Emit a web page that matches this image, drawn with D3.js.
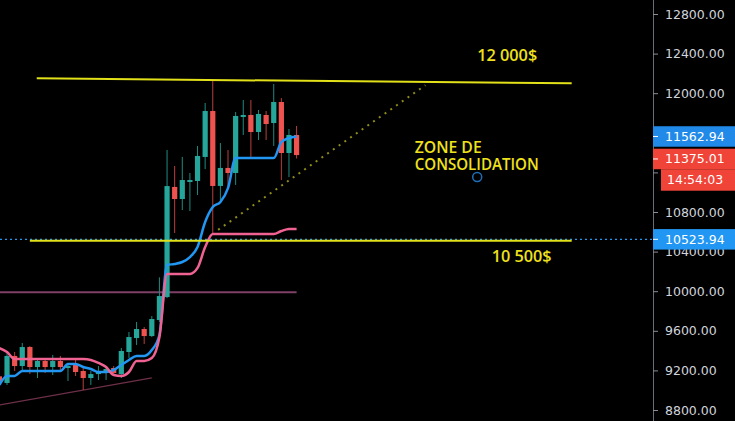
<!DOCTYPE html>
<meta charset="utf-8">
<style>
body { margin: 0; background: #000; }
svg { display: block; }
.axis text { font: 12.5px "DejaVu Sans"; fill: #d1d4dc; }
.axis line { stroke: #8a8d96; }
.note { font-family: "Open Sans"; font-weight: 600; font-size: 17px; fill: #efe21c; }
</style>
<body>
<script src="https://cdn.jsdelivr.net/npm/d3@7/dist/d3.min.js"></script>
<script>

var width = 735, height = 421, axisX = 653;

// candles (index = bar number)
var opens  = [9140, 9073, 9346, 9244, 9436, 9234, 9295, 9234, 9295, 9224, 9265, 9194, 9123, 9163, 9184, 9224, 9163, 9386, 9527, 9618,
              9547, 9709, 9941, 11053, 10931, 11103, 11113, 11356, 11820, 11063, 11245, 11194, 11760, 11780, 11608, 11780, 11699, 11911, 11396, 11578];
var highs  = [9180, 9386, 9386, 9477, 9446, 9325, 9325, 9356, 9346, 9275, 9305, 9224, 9194, 9244, 9234, 9244, 9426, 9588, 9689, 9638,
              9749, 10140, 11426, 11265, 11356, 11194, 11467, 11901, 12143, 11497, 11426, 11810, 11931, 11931, 11830, 11820, 12093, 11951, 11638, 11669];
var lows   = [9050, 9053, 9194, 9184, 9164, 9123, 9174, 9153, 9184, 9093, 9143, 9002, 9053, 9103, 9103, 9143, 9123, 9325, 9457, 9467,
              9537, 9689, 9930, 10588, 10820, 10810, 10972, 11234, 10568, 10921, 11042, 11073, 11578, 11356, 11527, 11527, 11467, 11123, 11153, 11340];
var closes = [9085, 9346, 9244, 9436, 9234, 9295, 9234, 9295, 9234, 9244, 9184, 9123, 9163, 9184, 9214, 9174, 9396, 9537, 9618, 9547,
              9719, 9951, 11062, 10931, 11123, 11123, 11366, 11820, 11063, 11245, 11194, 11770, 11780, 11608, 11790, 11689, 11911, 11396, 11578, 11375.01];

// indicator lines
var blueLine = [9053, 9144, 9144, 9194, 9194, 9194, 9194, 9194, 9194, 9265, 9265, 9234, 9214, 9184, 9184, 9204, 9255, 9305, 9346, 9346,
                9406, 9558, 10265, 10275, 10295, 10345, 10447, 10699, 10850, 10901, 11042, 11345, 11345, 11345, 11345, 11345, 11345, 11507, 11547, 11562.94];
var pinkLine = [9426, 9386, 9315, 9315, 9315, 9315, 9315, 9315, 9315, 9315, 9315, 9315, 9305, 9275, 9234, 9153, 9144, 9184, 9295, 9295,
                9325, 9537, 10174, 10174, 10174, 10174, 10235, 10447, 10578, 10578, 10578, 10578, 10578, 10578, 10578, 10578, 10578, 10608, 10629, 10629];

var yTicks = [8800, 9200, 9600, 10000, 10400, 10800, 11200, 11600, 12000, 12400, 12800];
var labelValues = [11562.94, 11375.01, 10523.94];
var labelColors = ["#2189e8", "#f04438", "#2196f3"];
var timerText = "14:54:03";

// drawings: [bar, price] pairs
var resistance = [[4.9, 12150], [75.1, 12100]];
var support = [[4, 10510], [75.1, 10510]];
var dottedTrend = [[28.7, 10620], [55.9, 12080]];
var mauveLevel = [[0, 9990], [39, 9990]];
var lowTrend = [[0, 8850], [20, 9125]];
var circlePoint = [62.7, 11154];
var notes = [
  {text: "12 000$", at: [62.7, 12325], len: 60},
  {text: "10 500$", at: [64.6, 10300], len: 60},
  {text: "ZONE DE", at: [54.5, 11396], len: 67},
  {text: "CONSOLIDATION", at: [54.5, 11224], len: 124}
];

var x = d3.scaleLinear().domain([0, 39]).range([-0.6, 296.6]);
var y = d3.scaleLinear().domain([8800, 12800]).range([410, 14]);

var svg = d3.select("body").append("svg")
    .attr("width", width)
    .attr("height", height)
    .style("background", "#000");

// last price dotted line
svg.append("line")
  .attr("x1", 0).attr("x2", axisX)
  .attr("y1", y(labelValues[2])).attr("y2", y(labelValues[2]))
  .attr("stroke", "#2196f3")
  .attr("stroke-width", 1.3)
  .attr("stroke-dasharray", "2,3");

var seg = d3.line()
  .x(function(d) { return x(d[0]); })
  .y(function(d) { return y(d[1]); });

svg.append("path").attr("d", seg(mauveLevel))
  .attr("stroke", "#7e4066").attr("stroke-width", 2).attr("fill", "none");
svg.append("path").attr("d", seg(lowTrend))
  .attr("stroke", "#6e3049").attr("stroke-width", 1.2).attr("fill", "none");

// candles
var bars = d3.range(opens.length);
var up = function(i) { return closes[i] >= opens[i]; };

svg.selectAll(".wick")
  .data(bars)
  .enter().append("line")
    .attr("x1", function(i) { return x(i); })
    .attr("x2", function(i) { return x(i); })
    .attr("y1", function(i) { return y(highs[i]); })
    .attr("y2", function(i) { return y(lows[i]); })
    .attr("stroke", function(i) { return up(i) ? "#1f8a80" : "#b8413c"; })
    .attr("stroke-width", 1);

svg.selectAll(".body")
  .data(bars)
  .enter().append("rect")
    .attr("x", function(i) { return x(i) - 2.6; })
    .attr("width", 5.2)
    .attr("y", function(i) { return y(Math.max(opens[i], closes[i])); })
    .attr("height", function(i) { return Math.max(1.5, Math.abs(y(opens[i]) - y(closes[i]))); })
    .attr("fill", function(i) { return up(i) ? "#26a69a" : "#ef5350"; });

var ind = d3.line()
  .x(function(d, i) { return x(i); })
  .y(function(d) { return y(d); })
  .curve(d3.curveMonotoneX);

svg.append("path").attr("d", ind(blueLine))
  .attr("stroke", "#2196f3").attr("stroke-width", 2.5).attr("fill", "none");
svg.append("path").attr("d", ind(pinkLine))
  .attr("stroke", "#f06292").attr("stroke-width", 2.5).attr("fill", "none");

// yellow levels and dotted trend
svg.append("path").attr("d", seg(resistance))
  .attr("stroke", "#e2e019").attr("stroke-width", 2).attr("fill", "none");
svg.append("path").attr("d", seg(support))
  .attr("stroke", "#e2e019").attr("stroke-width", 2).attr("fill", "none");
svg.append("path").attr("d", seg(dottedTrend))
  .attr("stroke", "#8f8c17").attr("stroke-width", 2)
  .attr("stroke-dasharray", "2,5").attr("fill", "none");

svg.append("circle")
  .attr("cx", x(circlePoint[0])).attr("cy", y(circlePoint[1]))
  .attr("r", 4.5)
  .attr("fill", "none").attr("stroke", "#1f6fb8").attr("stroke-width", 1.5);

svg.selectAll(".note")
  .data(notes)
  .enter().append("text")
    .attr("class", "note")
    .attr("x", function(d) { return x(d.at[0]); })
    .attr("y", function(d) { return y(d.at[1]); })
    .attr("textLength", function(d) { return d.len; })
    .attr("lengthAdjust", "spacingAndGlyphs")
    .text(function(d) { return d.text; });

// price axis
svg.append("line")
  .attr("x1", axisX + 0.5).attr("x2", axisX + 0.5)
  .attr("y1", 0).attr("y2", height)
  .attr("stroke", "#6a6d78");

// tick texts fully hidden behind the price labels are left out
var hidden = [11200, 11600];
var axis = svg.append("g")
  .attr("class", "axis")
  .attr("transform", "translate(" + axisX + ",0)")
  .call(d3.axisRight(y).tickValues(yTicks)
    .tickFormat(function(d) { return hidden.indexOf(d) >= 0 ? "" : d3.format(".2f")(d); })
    .tickSize(5).tickPadding(7).tickSizeOuter(0));
axis.select(".domain").remove();

// price labels, pushed down when they overlap
var boxH = 20.5, lastBottom = -100;
labelValues.forEach(function(v, k) {
  var cy = y(v);
  if (cy - boxH / 2 < lastBottom + 2) cy = lastBottom + 2 + boxH / 2;
  lastBottom = cy + boxH / 2;
  var g = svg.append("g").attr("transform", "translate(" + axisX + "," + cy + ")");
  g.append("rect").attr("x", 0).attr("y", -boxH / 2).attr("width", width - axisX).attr("height", boxH)
    .attr("fill", labelColors[k]);
  g.append("line").attr("x1", 0).attr("x2", 5).attr("stroke", "#fff");
  g.append("text").attr("x", 12).attr("dy", "0.36em")
    .style("font", "12.5px 'DejaVu Sans'").attr("fill", "#fff")
    .text(d3.format(".2f")(v));
  if (k === 1) {
    var t = svg.append("g").attr("transform", "translate(" + axisX + "," + (lastBottom + boxH / 2) + ")");
    t.append("rect").attr("x", 8).attr("y", -boxH / 2).attr("width", width - axisX - 8).attr("height", boxH + 1)
      .attr("fill", labelColors[k]);
    t.append("text").attr("x", 14).attr("dy", "0.4em")
      .style("font", "12.5px 'DejaVu Sans'").attr("fill", "#fff")
      .text(timerText);
    lastBottom += boxH + 1;
  }
});

</script>
</body>
